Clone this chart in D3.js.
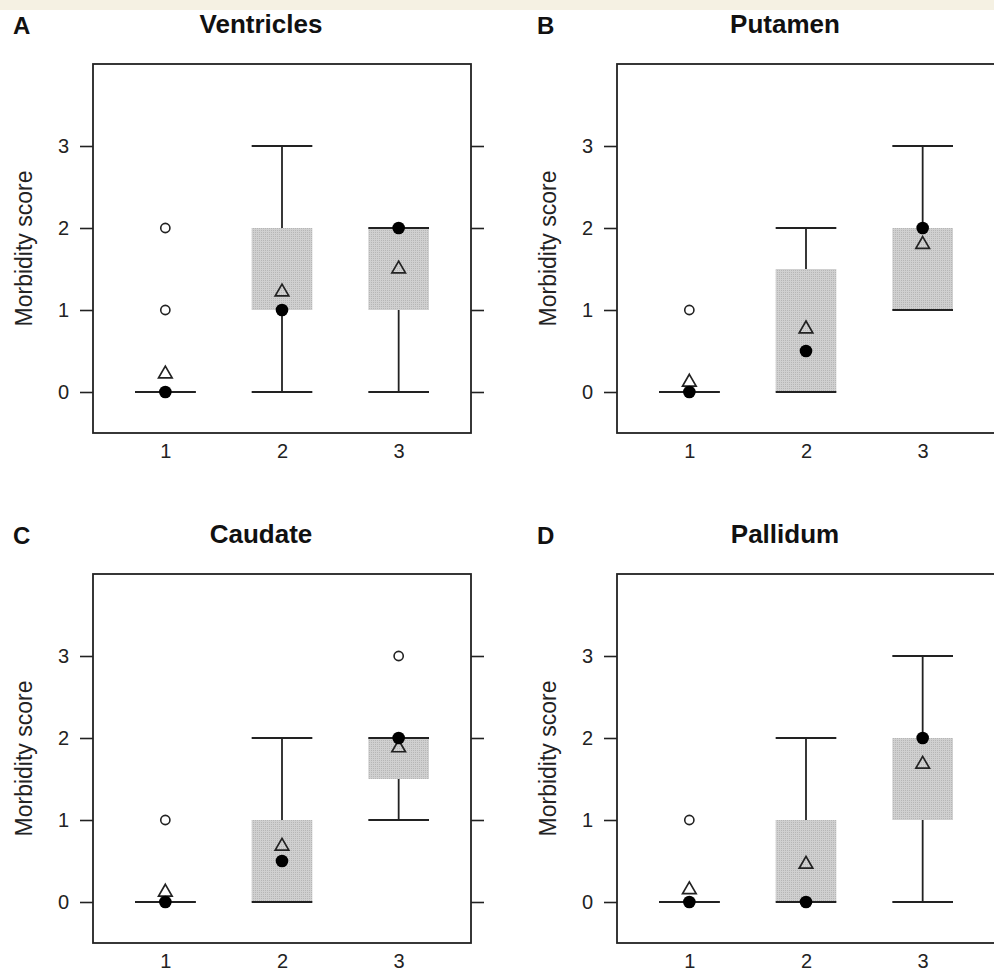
<!DOCTYPE html>
<html>
<head>
<meta charset="utf-8">
<script src="https://cdn.jsdelivr.net/npm/d3@7"></script>
<style>
  body { margin: 0; background: #fff; }
  svg { display: block; font-family: "Liberation Sans", Arial, Helvetica, sans-serif; }
</style>
</head>
<body>
<div id="chart"></div>
<script>
// panel labels
var panelLetters = ["A", "B", "C", "D"];
var panelTitles  = ["Ventricles", "Putamen", "Caudate", "Pallidum"];
var groups = [1, 2, 3];
var yTicks = [0, 1, 2, 3];

// box limits: one row per panel, one value per group
var boxLow      = [[0, 1, 1], [0, 0, 1],   [0, 0, 1.5], [0, 0, 1]];
var boxHigh     = [[0, 2, 2], [0, 1.5, 2], [0, 1, 2],   [0, 1, 2]];
var whiskerLow  = [[0, 0, 0], [0, 0, 1],   [0, 0, 1],   [0, 0, 0]];
var whiskerHigh = [[0, 3, 2], [0, 2, 3],   [0, 2, 2],   [0, 2, 3]];

// filled dots (median) and open triangles (mean)
var medians = [[0, 1, 2], [0, 0.5, 2], [0, 0.5, 2], [0, 0, 2]];
var means   = [[0.22, 1.22, 1.5], [0.12, 0.77, 1.8], [0.12, 0.68, 1.88], [0.15, 0.46, 1.68]];

// open circles as [group, value]
var outliers = [[[1, 1], [1, 2]], [[1, 1]], [[1, 1], [3, 3]], [[1, 1]]];

// size setup
var W = 994, H = 971;
var plotW = 378, plotH = 369;
var lefts = [93, 617, 93, 617];
var tops  = [64, 64, 574, 574];
var boxHalf = 0.26;
var ink = "#222";

var svg = d3.select("#chart").append("svg")
    .attr("width", W)
    .attr("height", H);

// stippled grey fill for the boxes
var pat = svg.append("defs").append("pattern")
    .attr("id", "stipple")
    .attr("width", 2).attr("height", 2)
    .attr("patternUnits", "userSpaceOnUse");
pat.append("rect").attr("width", 2).attr("height", 2).attr("fill", "#d0d0d0");
pat.append("rect").attr("width", 1).attr("height", 1).attr("fill", "#b6b6b6");

// beige strip at the top
svg.append("rect")
    .attr("width", W).attr("height", 10)
    .attr("fill", "#f5f1e3");

var x = d3.scaleLinear().domain([0.38, 3.62]).range([0, plotW]);
var y = d3.scaleLinear().domain([-0.5, 4.0]).range([plotH, 0]);

panelTitles.forEach(function(title, p){
    var g = svg.append("g")
        .attr("transform", "translate(" + lefts[p] + "," + tops[p] + ")");

    // letter and title
    g.append("text")
        .attr("x", -80).attr("y", -30)
        .attr("font-size", 24).attr("font-weight", "bold")
        .attr("fill", "#111")
        .text(panelLetters[p]);

    g.append("text")
        .attr("x", 168).attr("y", -31)
        .attr("text-anchor", "middle")
        .attr("font-size", 26).attr("font-weight", "bold")
        .attr("fill", "#111")
        .text(title);

    // axes
    var yAxis = g.append("g")
        .call(d3.axisLeft(y).tickValues(yTicks).tickSize(13).tickPadding(11).tickFormat(d3.format("d")));
    var yAxisR = g.append("g")
        .attr("transform", "translate(" + plotW + ",0)")
        .call(d3.axisRight(y).tickValues(yTicks).tickSize(13).tickFormat(""));
    var xAxis = g.append("g")
        .attr("transform", "translate(0," + plotH + ")")
        .call(d3.axisBottom(x).tickValues(groups).tickSize(0).tickPadding(11).tickFormat(d3.format("d")));

    [yAxis, yAxisR, xAxis].forEach(function(a){
        a.attr("font-size", 20).attr("font-family", null);
        a.select(".domain").remove();
        a.selectAll("line").attr("stroke", ink).attr("stroke-width", 1.6);
        a.selectAll("text").attr("fill", "#222");
    });

    g.append("text")
        .attr("transform", "translate(-69," + (plotH / 2) + ") rotate(-90)")
        .attr("text-anchor", "middle")
        .attr("dy", "0.35em")
        .attr("font-size", 23)
        .attr("fill", "#222")
        .text("Morbidity score");

    // boxes
    g.selectAll("rect.box")
        .data(groups)
        .enter().append("rect")
        .attr("class", "box")
        .attr("x", function(d){ return x(d - boxHalf); })
        .attr("width", function(d){ return x(d + boxHalf) - x(d - boxHalf); })
        .attr("y", function(d, i){ return y(boxHigh[p][i]); })
        .attr("height", function(d, i){ return y(boxLow[p][i]) - y(boxHigh[p][i]); })
        .attr("fill", "url(#stipple)");

    // whiskers
    var wg = g.append("g").attr("stroke", ink).attr("stroke-width", 1.8);
    groups.forEach(function(d, i){
        wg.append("line")
            .attr("x1", x(d)).attr("x2", x(d))
            .attr("y1", y(whiskerLow[p][i])).attr("y2", y(boxLow[p][i]));
        wg.append("line")
            .attr("x1", x(d)).attr("x2", x(d))
            .attr("y1", y(boxHigh[p][i])).attr("y2", y(whiskerHigh[p][i]));
        [whiskerLow[p][i], whiskerHigh[p][i]].forEach(function(v){
            wg.append("line")
                .attr("x1", x(d - boxHalf)).attr("x2", x(d + boxHalf))
                .attr("y1", y(v)).attr("y2", y(v));
        });
    });

    // frame
    g.append("rect")
        .attr("width", plotW).attr("height", plotH)
        .attr("fill", "none")
        .attr("stroke", "#222").attr("stroke-width", 1.8);

    // outliers
    g.selectAll("circle.out")
        .data(outliers[p])
        .enter().append("circle")
        .attr("class", "out")
        .attr("cx", function(d){ return x(d[0]); })
        .attr("cy", function(d){ return y(d[1]); })
        .attr("r", 4.6)
        .attr("fill", "none")
        .attr("stroke", ink).attr("stroke-width", 1.6);

    // means
    g.selectAll("path.mean")
        .data(groups)
        .enter().append("path")
        .attr("class", "mean")
        .attr("d", d3.symbol(d3.symbolTriangle, 80))
        .attr("transform", function(d, i){
            return "translate(" + x(d) + "," + y(means[p][i]) + ")";
        })
        .attr("fill", "none")
        .attr("stroke", ink).attr("stroke-width", 1.7);

    // medians
    g.selectAll("circle.med")
        .data(groups)
        .enter().append("circle")
        .attr("class", "med")
        .attr("cx", function(d){ return x(d); })
        .attr("cy", function(d, i){ return y(medians[p][i]); })
        .attr("r", 6.3)
        .attr("fill", "#000");
});
</script>
</body>
</html>
